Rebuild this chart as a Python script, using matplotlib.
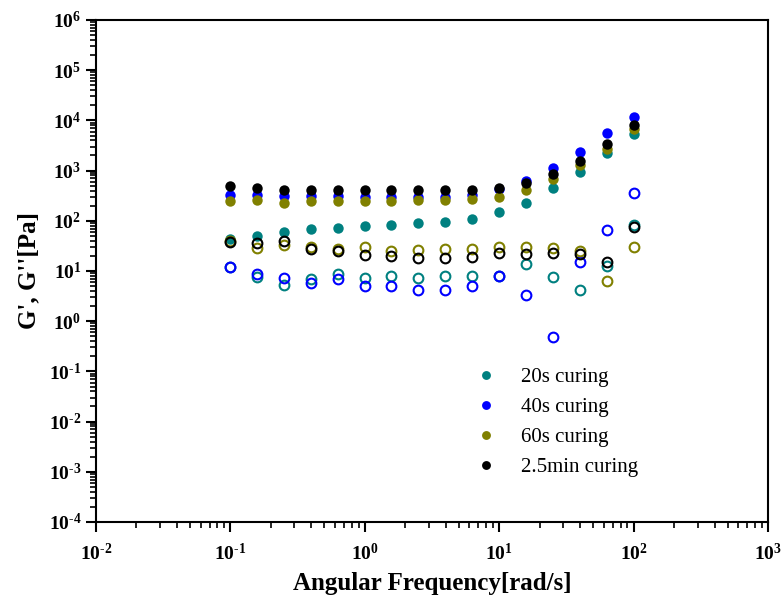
import math
import matplotlib
matplotlib.use("Agg")
import matplotlib.pyplot as plt
from matplotlib.ticker import LogLocator, FuncFormatter, NullFormatter

plt.rcParams['font.family'] = ['Liberation Serif', 'DejaVu Serif']
plt.rcParams['mathtext.fontset'] = 'custom'
plt.rcParams['mathtext.rm'] = 'Liberation Serif:bold'
plt.rcParams['mathtext.bf'] = 'Liberation Serif:bold'
plt.rcParams['axes.unicode_minus'] = False

# angular frequency [rad/s]
freq = [0.1, 0.158, 0.251, 0.398, 0.631, 1.0, 1.58, 2.51, 3.98, 6.31,
        10, 15.8, 25.1, 39.8, 63.1, 100]

# storage modulus G' (filled) and loss modulus G'' (open)
g1_20s = [43.7, 49.5, 59.5, 67.3, 72.4, 79.4, 83.2, 92, 95.5, 111,
          147, 222, 442, 946, 2200, 5340]
g2_20s = [12.1, 7.6, 5.15, 6.8, 8.65, 7.4, 7.9, 7.1, 8.0, 8.0,
          8.0, 13.5, 7.6, 4.15, 12.5, 82]
g1_40s = [330, 320, 310, 310, 310, 300, 300, 300, 301, 325,
          422, 618, 1107, 2371, 5520, 11830]
g2_40s = [11.8, 8.9, 7.1, 5.8, 7.0, 5.0, 5.0, 4.15, 4.15, 5.06,
          8.0, 3.3, 0.49, 15.2, 65.2, 352]
g1_60s = [250, 263, 222, 250, 245, 250, 250, 255, 258, 274,
          301, 409, 668, 1270, 2720, 6630]
g2_60s = [40, 28.5, 33, 29.4, 26.9, 29.4, 25.2, 26, 26.9, 26.9,
          30.3, 29.4, 28.1, 25.2, 6.4, 30.3]
g1_25m = [491, 448, 409, 420, 420, 409, 409, 409, 409, 409,
          442, 571, 852, 1549, 3330, 8080]
g2_25m = [37.1, 35.4, 38.8, 27.7, 25.2, 21.0, 20.0, 18.5, 17.8, 18.6,
          22.4, 21.4, 22.4, 21.9, 15.2, 75.9]

labels = ['20s curing', '40s curing', '60s curing', '2.5min curing']
colors = ['#008080', '#0000ff', '#808000', '#000000']
storage = [g1_20s, g1_40s, g1_60s, g1_25m]
loss = [g2_20s, g2_40s, g2_60s, g2_25m]

fig = plt.figure(figsize=(7.84, 5.95), dpi=100)
ax = fig.add_axes([0.1224, 0.1227, 0.8572, 0.8437])

handles = []
for lab, col, g1 in zip(labels, colors, storage):
    h, = ax.plot(freq, g1, 'o', color=col, markersize=7.5, markeredgewidth=0,
                 label=lab, zorder=3)
    handles.append(h)
for col, g2 in zip(colors, loss):
    ax.plot(freq, g2, 'o', markerfacecolor='none', markeredgecolor=col,
            markersize=7, markeredgewidth=1.5, zorder=3)

ax.set_xscale('log')
ax.set_yscale('log')
ax.set_xlim(1e-2, 1e3)
ax.set_ylim(1e-4, 1e6)


def pow10(v, pos):
    e = round(math.log10(v))
    if e < 0:
        return r'$\mathbf{10^{\text{-}%d}}$' % -e
    return r'$\mathbf{10^{%d}}$' % e


fmt = FuncFormatter(pow10)
for axis in (ax.xaxis, ax.yaxis):
    axis.set_major_locator(LogLocator(base=10, numticks=20))
    axis.set_minor_locator(LogLocator(base=10, subs=range(2, 10), numticks=20))
    axis.set_major_formatter(fmt)
    axis.set_minor_formatter(NullFormatter())

ax.tick_params(which='major', direction='out', length=7, width=1.5,
               labelsize=14, top=False, right=False)
ax.tick_params(which='minor', direction='out', length=4, width=1.2,
               top=False, right=False)
ax.tick_params(axis='x', pad=8)
for s in ax.spines.values():
    s.set_linewidth(1.5)

ax.set_xlabel('Angular Frequency[rad/s]', fontsize=18, fontweight='bold',
              labelpad=6)
ax.set_ylabel("G', G''[Pa]", fontsize=18, fontweight='bold', labelpad=6)

ax.legend(handles=handles, loc='upper left', bbox_to_anchor=(0.522, 0.345),
          frameon=False, fontsize=15, markerscale=0.85, handletextpad=0.65,
          labelspacing=0.5)

fig.savefig('out.png', dpi=100)
